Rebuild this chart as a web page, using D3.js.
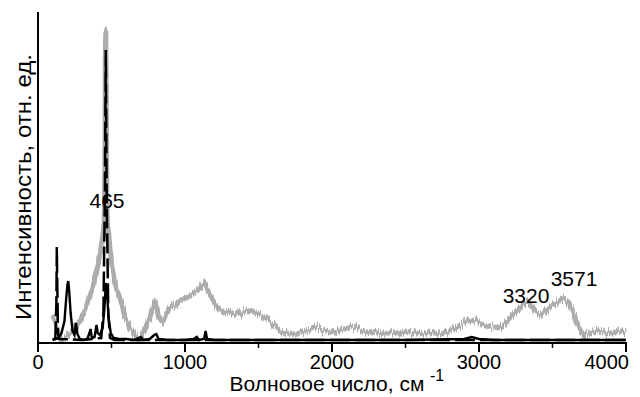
<!DOCTYPE html>
<html>
<head>
<meta charset="utf-8">
<title>Spectrum</title>
<script src="https://d3js.org/d3.v7.min.js"></script>
<style>
body { margin: 0; background: #fff; }
text { font-family: "Liberation Sans", Arial, sans-serif; fill: #000; }
</style>
</head>
<body>
<script>
// wavenumber (cm-1), relative intensity
var grayTrace = [
  [100,28],[115,22],[130,14],[145,8],[160,2],[175,4],[190,6],[210,9],[230,12],[250,15],
  [270,19],[290,25],[310,30],[330,38],[350,46],[370,54],[390,66],[410,80],[425,92],[440,106],
  [450,118],[455,180],[458,290],[461,311],[464,260],[468,150],[472,122],[480,112],[490,95],[500,80],
  [515,68],[530,56],[545,50],[560,44],[575,36],[590,28],[605,22],[620,16],[640,12],[660,8],
  [680,4],[700,5],[720,12],[740,18],[760,26],[780,34],[795,42],[805,36],[820,26],[840,20],
  [860,24],[880,32],[900,35],[920,38],[940,37],[960,42],[980,43],[1000,45],[1020,46],[1040,48],
  [1060,50],[1080,52],[1100,54],[1115,58],[1130,60],[1145,56],[1160,50],[1180,46],[1200,40],[1220,36],
  [1240,34],[1260,31],[1280,30],[1300,32],[1320,30],[1340,29],[1360,31],[1380,28],[1400,30],[1420,32],
  [1440,30],[1460,32],[1480,30],[1500,29],[1520,28],[1540,26],[1560,24],[1580,21],[1600,18],[1620,16],
  [1640,13],[1660,11],[1680,9],[1700,10],[1740,8],[1780,10],[1820,12],[1860,14],[1900,16],[1940,13],
  [1980,11],[2020,10],[2060,13],[2100,15],[2140,17],[2180,14],[2220,12],[2260,10],[2300,12],[2340,9],
  [2380,10],[2420,11],[2460,9],[2500,12],[2540,10],[2580,11],[2620,9],[2660,11],[2700,10],[2740,9],
  [2780,10],[2820,13],[2860,17],[2900,20],[2940,23],[2980,22],[3020,19],[3060,17],[3100,16],[3140,15],
  [3180,20],[3220,27],[3260,33],[3300,38],[3330,42],[3360,36],[3390,30],[3420,28],[3460,33],[3500,38],
  [3540,41],[3570,45],[3600,42],[3630,35],[3660,22],[3690,12],[3720,7],[3750,10],[3800,12],[3850,11],
  [3900,10],[3950,12],[4000,10]
];

var solidTrace = [
  [100,3],[120,4],[140,5],[160,10],[180,22],[192,45],[200,58],[206,62],[212,52],[222,30],
  [235,12],[248,8],[258,20],[268,9],[285,4],[310,3],[335,4],[350,10],[358,14],[366,5],
  [385,6],[398,18],[406,10],[420,8],[440,15],[452,35],[462,60],[470,50],[480,25],[495,10],
  [515,5],[550,4],[600,4],[650,3],[700,6],[715,3],[760,4],[790,8],[805,9],[820,4],
  [880,3],[1000,3],[1060,4],[1080,6],[1095,3],[1130,4],[1140,12],[1150,4],[1200,3],[1500,3],
  [2000,3],[2500,3],[2900,4],[2950,6],[3000,4],[3100,3],[4000,3]
];

var dashedTrace = [
  [100,3],[118,5],[125,40],[128,96],[131,60],[136,10],[145,4],[300,3],[430,5],[445,30],
  [455,150],[461,293],[467,150],[478,30],[490,5],[520,3],[4000,3]
];

var xTicks = [0, 1000, 2000, 3000, 4000];
var xMinorTicks = [500, 1500, 2500, 3500];
var peakLabels = [[465, "465"], [3320, "3320"], [3571, "3571"]];

var width = 640, height = 397;
var x = d3.scaleLinear().domain([0, 4000]).range([38, 626]);
var y = d3.scaleLinear().domain([0, 331]).range([343, 12]);

var svg = d3.select("body").append("svg")
    .attr("width", width)
    .attr("height", height);

// vertical-only jitter to give the grey trace its noisy look
var defs = svg.append("defs");
var flt = defs.append("filter").attr("id", "noise")
    .attr("x", "-5%").attr("y", "-10%").attr("width", "110%").attr("height", "120%");
flt.append("feTurbulence")
    .attr("type", "fractalNoise").attr("baseFrequency", "0.9 0.02")
    .attr("numOctaves", 2).attr("seed", 3).attr("result", "turb");
var ct = flt.append("feComponentTransfer").attr("in", "turb").attr("result", "map");
ct.append("feFuncR").attr("type", "linear").attr("slope", 0).attr("intercept", 0.5);
flt.append("feDisplacementMap")
    .attr("in", "SourceGraphic").attr("in2", "map")
    .attr("scale", 11)
    .attr("xChannelSelector", "R").attr("yChannelSelector", "G");

var line = d3.line()
    .x(function(d) { return x(d[0]); })
    .y(function(d) { return y(d[1]); });

svg.append("path")
    .datum(grayTrace)
    .attr("d", line)
    .attr("fill", "none")
    .attr("stroke", "#adadad")
    .attr("stroke-width", 5)
    .attr("stroke-linejoin", "round")
    .attr("filter", "url(#noise)");

svg.append("path")
    .datum(dashedTrace)
    .attr("d", line)
    .attr("fill", "none")
    .attr("stroke", "#000")
    .attr("stroke-width", 2.5)
    .attr("stroke-dasharray", "20,5");

svg.append("path")
    .datum(solidTrace)
    .attr("d", line)
    .attr("fill", "none")
    .attr("stroke", "#000")
    .attr("stroke-width", 2.4);

// axes
svg.append("line")
    .attr("x1", x(0)).attr("x2", x(0))
    .attr("y1", 12).attr("y2", y(0) + 1)
    .attr("stroke", "#000").attr("stroke-width", 2);

svg.append("line")
    .attr("x1", x(0) - 1).attr("x2", x(4000) + 1)
    .attr("y1", y(0)).attr("y2", y(0))
    .attr("stroke", "#000").attr("stroke-width", 2);

svg.selectAll(".major").data(xTicks).enter().append("line")
    .attr("x1", function(d) { return x(d); }).attr("x2", function(d) { return x(d); })
    .attr("y1", y(0)).attr("y2", y(0) + 9)
    .attr("stroke", "#000").attr("stroke-width", 2);

svg.selectAll(".minor").data(xMinorTicks).enter().append("line")
    .attr("x1", function(d) { return x(d); }).attr("x2", function(d) { return x(d); })
    .attr("y1", y(0)).attr("y2", y(0) + 5)
    .attr("stroke", "#000").attr("stroke-width", 1.5);

svg.selectAll(".tlabel").data(xTicks).enter().append("text")
    .attr("x", function(d) { return d === 4000 ? 629 : x(d); })
    .attr("y", 369)
    .attr("text-anchor", function(d) { return d === 4000 ? "end" : "middle"; })
    .style("font-size", "20px")
    .text(function(d) { return d; });

svg.append("text")
    .attr("x", 327).attr("y", 391)
    .attr("text-anchor", "middle")
    .style("font-size", "21px")
    .text("Волновое число, см");

svg.append("text")
    .attr("x", 430).attr("y", 381)
    .style("font-size", "16px")
    .text("-1");

svg.append("text")
    .attr("transform", "translate(31,187) rotate(-90)")
    .attr("text-anchor", "middle")
    .attr("textLength", 266)
    .attr("lengthAdjust", "spacingAndGlyphs")
    .style("font-size", "22px")
    .text("Интенсивность, отн. ед.");

// peak labels
var labelPos = { "465": [107, 208], "3320": [526, 303], "3571": [574, 286] };
svg.selectAll(".peak").data(peakLabels).enter().append("text")
    .attr("x", function(d) { return labelPos[d[1]][0]; })
    .attr("y", function(d) { return labelPos[d[1]][1]; })
    .attr("text-anchor", "middle")
    .style("font-size", "21px")
    .text(function(d) { return d[1]; });
</script>
</body>
</html>
